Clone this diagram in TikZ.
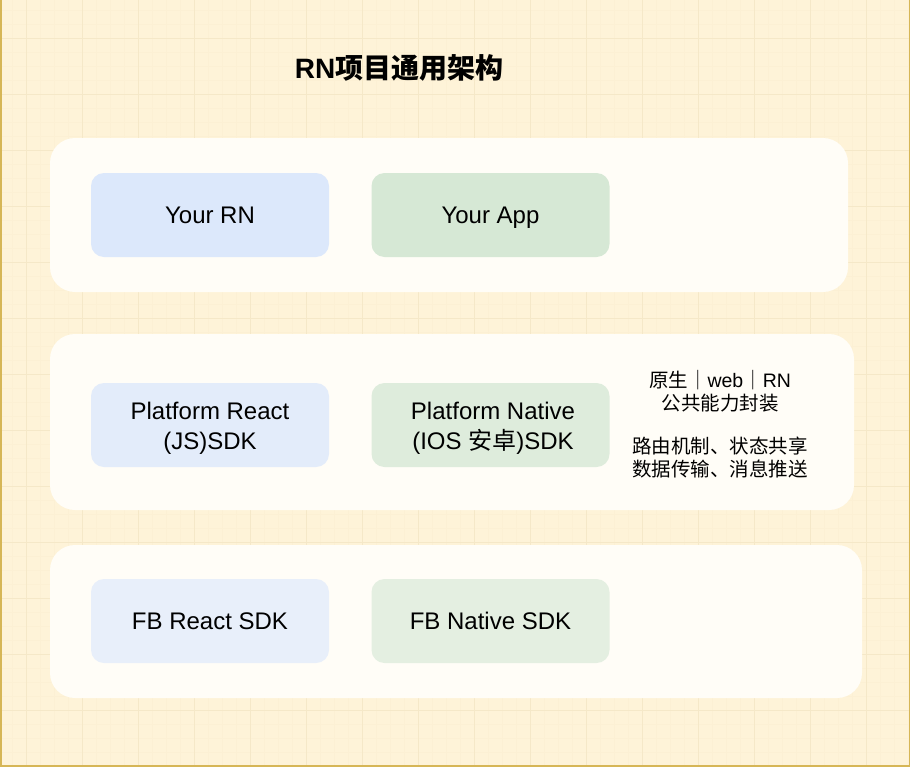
\documentclass[tikz,border=0pt]{standalone}
\usepackage{fontspec}
\setmainfont{Liberation Sans}
\newfontfamily\cjk{Noto Sans CJK SC}
\usepackage{xcolor}

\definecolor{paperFill}{HTML}{FEF3D8}
\definecolor{paperLine}{HTML}{D6B656}
\definecolor{gridMinor}{HTML}{FCF0D4}
\definecolor{gridMajor}{HTML}{F5E8C8}
\definecolor{panelFill}{HTML}{FFFDF7}
\definecolor{reactFill}{HTML}{DCE8FB}
\definecolor{nativeFill}{HTML}{D6E8D5}

\tikzset{
  panel/.style={rectangle, rounded corners=25pt, fill=panelFill, inner sep=0pt},
  sdkbox/.style={rectangle, rounded corners=13pt, inner sep=0pt,
    minimum width=238pt, minimum height=84pt, align=center,
    font=\fontsize{24}{30}\selectfont},
  oneline/.style={text height=17pt, text depth=0pt},
}

\begin{document}
\begin{tikzpicture}[x=1pt, y=-1pt]
  \useasboundingbox (0,0) rectangle (912,768);

  % Papier
  \fill[paperFill] (0,0) rectangle (910,767);
  \foreach \i in {0,...,64} {
    \draw[gridMinor, line width=0.6pt] ({12.7+14*\i},0) -- ({12.7+14*\i},767);
  }
  \foreach \i in {0,...,54} {
    \draw[gridMinor, line width=0.6pt] (0,{10.3+14*\i}) -- (910,{10.3+14*\i});
  }
  \foreach \i in {0,...,16} {
    \draw[gridMajor, line width=0.8pt] ({26.7+56*\i},0) -- ({26.7+56*\i},767);
  }
  \foreach \i in {0,...,13} {
    \draw[gridMajor, line width=0.8pt] (0,{38.3+56*\i}) -- (910,{38.3+56*\i});
  }
  \draw[paperLine, line width=1.6pt] (0.8,-5) -- (0.8,766.2) -- (909.5,766.2) -- (909.5,-5);

  % Titel
  \node (title) at (399,68) {\fontsize{28}{33}\selectfont\bfseries RN{\cjk 项目通用架构}};

  % Schicht 1
  \node[panel, minimum width=798pt, minimum height=154pt] (appLayer) at (449,215) {};
  \node[sdkbox, oneline, fill=reactFill] (yourRN) at (210,215) {Your RN};
  \node[sdkbox, oneline, fill=nativeFill] (yourApp) at (490.5,215) {Your App};

  % Schicht 2
  \node[panel, minimum width=804pt, minimum height=176pt] (platformLayer) at (452,422) {};
  \node[sdkbox, fill=reactFill!80!panelFill] (pfReact) at (210,425) {};
  \node[align=center, font=\fontsize{24}{30}\selectfont] (pfReactText) at (210,428) {Platform React\\(JS)SDK};
  \node[sdkbox, fill=nativeFill!80!panelFill] (pfNative) at (490.5,425) {};
  \node[align=center, font=\fontsize{24}{30}\selectfont] (pfNativeText) at (493,428) {Platform Native\\(IOS {\cjk 安卓})SDK};
  \node[align=center, font=\fontsize{19.5}{23}\selectfont] (platformNote) at (720,424)
    {{\cjk 原生｜}web{\cjk ｜}RN\\{\cjk 公共能力封装}\\[20pt]{\cjk 路由机制、状态共享}\\{\cjk 数据传输、消息推送}};

  % Schicht 3
  \node[panel, minimum width=812pt, minimum height=153pt] (fbLayer) at (456,621.5) {};
  \node[sdkbox, oneline, fill=reactFill!65!panelFill] (fbReact) at (210,621) {FB React SDK};
  \node[sdkbox, oneline, fill=nativeFill!65!panelFill] (fbNative) at (490.5,621) {FB Native SDK};
\end{tikzpicture}
\end{document}
